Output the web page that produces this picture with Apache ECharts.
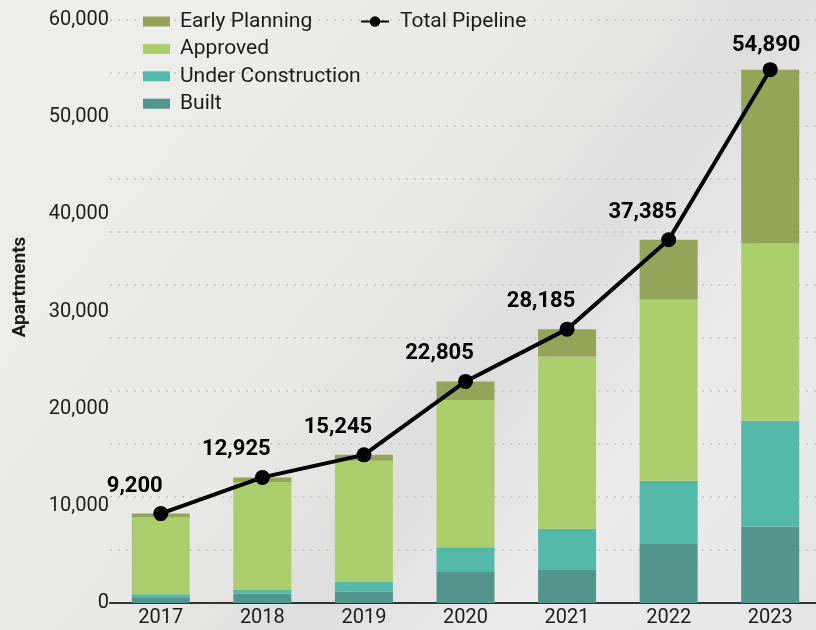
<!DOCTYPE html>
<html>
<head>
<meta charset="utf-8">
<script src="https://cdn.jsdelivr.net/npm/echarts@6/dist/echarts.min.js"></script>
<style>
html,body{margin:0;padding:0;background:#ebebea;}
#chart{width:816px;height:630px;}
</style>
</head>
<body>
<div id="chart"></div>
<script>
const years = ['2017','2018','2019','2020','2021','2022','2023'];
const built = [600, 950, 1150, 3200, 3400, 6080, 7840];
const underConstruction = [300, 400, 1000, 2550, 4230, 6500, 10920];
const approved = [7900, 11100, 12500, 15150, 17730, 18660, 18250];
const earlyPlanning = [400, 475, 595, 1905, 2825, 6145, 17880];
const totalPipeline = [9200, 12925, 15245, 22805, 28185, 37385, 54890];
const yTicks = [0, 10000, 20000, 30000, 40000, 50000, 60000];

const FONT = 'Roboto';
const TXT = '#1c1c1c';
const chart = echarts.init(document.getElementById('chart'));

function bar(name, data, color) {
  return { name, type: 'bar', stack: 'total', data, barWidth: 58,
    itemStyle: { color }, emphasis: { disabled: true } };
}

const option = {
  backgroundColor: {
    type: 'linear', x: 0, y: 0, x2: 1, y2: 1,
    colorStops: [
      { offset: 0, color: '#efefee' },
      { offset: 0.45, color: '#e9e9e8' },
      { offset: 0.6, color: '#dedede' },
      { offset: 0.75, color: '#ececec' },
      { offset: 1, color: '#e6e6e6' }
    ]
  },
  textStyle: { fontFamily: FONT },
  animation: false,
  grid: { left: 110, top: 20, width: 711, bottom: 27, containLabel: false,
    outerBoundsMode: 'none' },
  legend: [
    { data: ['Early Planning', 'Approved', 'Under Construction', 'Built'],
      orient: 'vertical', left: 143, top: 11, itemWidth: 27, itemHeight: 10,
      itemGap: 6.4, icon: 'rect', padding: 0,
      textStyle: { fontSize: 21, lineHeight: 21, color: TXT, fontFamily: FONT,
        padding: [0, 0, 0, 5] } },
    { data: ['Total Pipeline'], left: 360, top: 11, itemWidth: 28, itemHeight: 13,
      padding: 0,
      textStyle: { fontSize: 21, lineHeight: 21, color: TXT, fontFamily: FONT,
        padding: [0, 0, 0, 6] } }
  ],
  xAxis: {
    type: 'category', data: years,
    axisLine: { lineStyle: { color: '#333', width: 2 } },
    axisTick: { show: false },
    axisLabel: { fontSize: 20, color: TXT, margin: 5, fontFamily: FONT }
  },
  yAxis: [
    { type: 'value', min: yTicks[0], max: yTicks[yTicks.length - 1], interval: 10000,
      axisLine: { show: false }, axisTick: { show: false },
      splitLine: { show: false },
      axisLabel: { fontSize: 20, color: TXT, margin: 1, fontFamily: FONT,
        formatter: v => v.toLocaleString('en-US') } },
    { type: 'value', min: 0, max: 60000, interval: 60000 / 11, position: 'left',
      axisLine: { show: false }, axisTick: { show: false }, axisLabel: { show: false },
      splitLine: { show: true, lineStyle: { color: '#c4c4c4', type: [2, 6], width: 1.5 } } }
  ],
  graphic: [
    { type: 'text', x: 20, y: 287, rotation: Math.PI / 2,
      style: { text: 'Apartments', fontSize: 19, fontWeight: 'bold', fill: TXT,
        fontFamily: FONT, align: 'center', verticalAlign: 'middle' } }
  ],
  series: [
    bar('Built', built, '#51958c'),
    bar('Under Construction', underConstruction, '#54b9a9'),
    bar('Approved', approved, '#accf6e'),
    bar('Early Planning', earlyPlanning, '#94a55a'),
    { name: 'Total Pipeline', type: 'line', z: 10,
      data: totalPipeline.map((v, i) => i === totalPipeline.length - 1
        ? { value: v, label: { offset: [-4, -2] } } : v),
      symbol: 'circle', symbolSize: 15,
      lineStyle: { color: '#000', width: 4 }, itemStyle: { color: '#000' },
      label: { show: true, position: 'top', offset: [-26, -5], distance: 4,
        fontSize: 22, fontWeight: 'bold', color: '#000', fontFamily: FONT,
        formatter: p => p.value.toLocaleString('en-US') },
      emphasis: { disabled: true } }
  ]
};
chart.setOption(option);
</script>
</body>
</html>
